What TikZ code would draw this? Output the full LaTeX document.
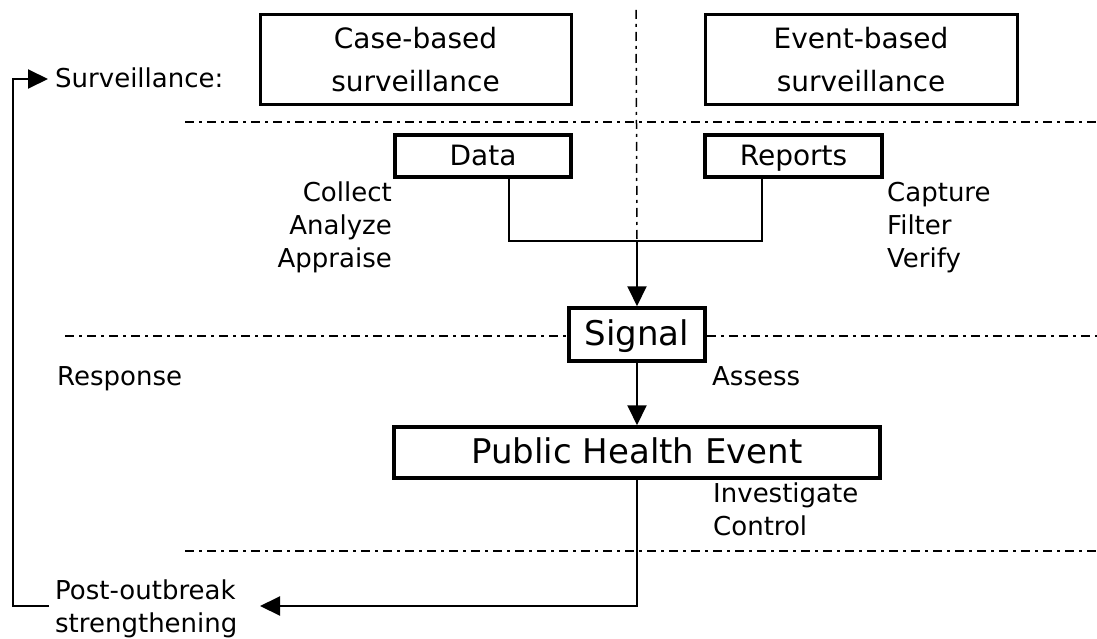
\documentclass[tikz,border=0pt]{standalone}
\usepackage{fontspec}
\setmainfont{DejaVu Sans}
\usetikzlibrary{arrows.meta}
\begin{document}
\begin{tikzpicture}[x=1pt,y=-1pt,
  lbl/.style={inner sep=0pt,font=\fontsize{26}{33}\selectfont},
  bigbox/.style={draw,line width=3pt,inner sep=0pt,font=\fontsize{28}{43}\selectfont,align=center},
  smallbox/.style={draw,line width=3.5pt,inner sep=0pt,text height=20pt,text depth=0pt,font=\fontsize{28}{34}\selectfont},
  keybox/.style={draw,line width=3.5pt,inner sep=0pt,text height=22pt,text depth=0pt,font=\fontsize{34}{40}\selectfont},
  divider/.style={line width=2pt,dash pattern=on 9pt off 5pt on 3pt off 5pt},
  link/.style={line width=1.6pt},
  arr/.style={line width=2pt,-{Triangle[length=20pt,width=19pt]}}]
\useasboundingbox (0,0) rectangle (1097,639);

% boxes
\node[bigbox,minimum width=311pt,minimum height=90pt] (case) at (415.5,60) {Case-based\\surveillance};
\node[bigbox,minimum width=312pt,minimum height=90pt] (event) at (861,60) {Event-based\\surveillance};
\node[smallbox,minimum width=176pt,minimum height=42pt] (data) at (483,156) {Data};
\node[smallbox,minimum width=177pt,minimum height=42pt] (reports) at (793.5,156) {Reports};
\node[keybox,minimum width=136pt,minimum height=53pt] (signal) at (637,334.5) {Signal};
\node[keybox,minimum width=486pt,minimum height=51pt] (phe) at (637,452.5) {Public Health Event};

% labels (base anchor = baseline of the last line)
\node[lbl,anchor=base west] (surv) at (55,88) {Surveillance:};
\node[lbl,anchor=base east,align=right] (cbsteps) at (392,267) {Collect\\Analyze\\Appraise};
\node[lbl,anchor=base west,align=left] (ebsteps) at (887,267) {Capture\\Filter\\Verify};
\node[lbl,anchor=base west] (resp) at (57,385) {Response};
\node[lbl,anchor=base west] (assess) at (712,385) {Assess};
\node[lbl,anchor=base west,align=left] (ctrl) at (713,535) {Investigate\\Control};
\node[lbl,anchor=base west,align=left] (post) at (55,632) {Post-outbreak\\strengthening};

% coordinates
\coordinate (dl) at (509,241);
\coordinate (rl) at (762,241);
\coordinate (join) at (637,241);
\coordinate (vtop) at (636,10);
\coordinate (rettip) at (260,606);
\coordinate (fbstart) at (49,606);
\coordinate (fbb) at (13,606);
\coordinate (fbt) at (13,79);
\coordinate (survtip) at (48,79);

% dividers
\draw[divider] (185,122) -- (1097,122);
\draw[divider] (65,336) -- (signal.west |- 0,336);
\draw[divider] (signal.east |- 0,336) -- (1097,336);
\draw[divider] (185,551) -- (1097,551);
\draw[divider,line width=1.5pt] (vtop) -- (join);

% connectors
\draw[link] (data.south -| dl) -- (dl) -- (rl) -- (reports.south -| rl);
\draw[arr] (join) -- (signal.north);
\draw[arr] (signal.south) -- (phe.north);
\draw[arr] (phe.south) |- (rettip);
\draw[arr] (fbstart) -- (fbb) -- (fbt) -- (survtip);
\end{tikzpicture}
\end{document}
